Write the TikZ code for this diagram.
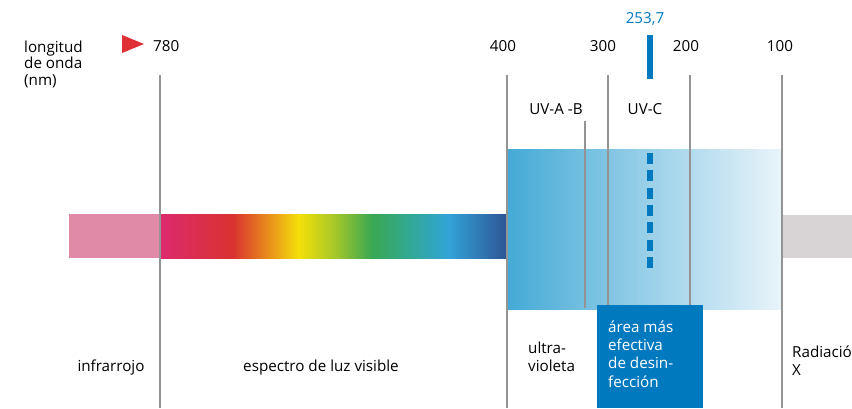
\documentclass[tikz,border=0pt]{standalone}
\usepackage{fontspec}
\setmainfont{Open Sans}
\definecolor{infra}{HTML}{E08AA8}
\definecolor{xray}{HTML}{D8D4D5}
\definecolor{uvleft}{HTML}{44AAD6}
\definecolor{uvright}{HTML}{EAF4FA}
\definecolor{uvc}{HTML}{0079BF}
\definecolor{pointer}{HTML}{E03036}
\definecolor{vmag}{HTML}{DC2A6E}
\definecolor{vred}{HTML}{D93230}
\definecolor{vorange}{HTML}{E57A20}
\definecolor{vyellow}{HTML}{F5E00A}
\definecolor{vlime}{HTML}{A8C828}
\definecolor{vgreen}{HTML}{3AA852}
\definecolor{vteal}{HTML}{30A89A}
\definecolor{vblue}{HTML}{32A4D8}
\definecolor{vdark}{HTML}{2E5494}
\pgfdeclarehorizontalshading{visible}{100bp}{color(0bp)=(vmag); color(25bp)=(vmag);
  color(35.5bp)=(vred); color(39.5bp)=(vorange); color(45bp)=(vyellow);
  color(50bp)=(vlime); color(55.5bp)=(vgreen); color(61.5bp)=(vteal);
  color(66.5bp)=(vblue); color(75bp)=(vdark); color(100bp)=(vdark)}
\begin{document}
\begin{tikzpicture}[x=1pt, y=-1pt, font=\fontsize{15.2}{17.7}\selectfont,
    grid/.style={line width=2pt, black!42},
    txt/.style={inner sep=0pt, anchor=base west, align=left},
    num/.style={inner sep=0pt, anchor=base}]
  \useasboundingbox (0,0) rectangle (852,408);
  % bands
  \fill[infra] (69,214) rectangle (160,258);
  \shade[shading=visible] (160,214) rectangle (507,258);
  \fill[xray] (782,215) rectangle (852,258);
  \shade[left color=uvleft, right color=uvright] (507,149) rectangle (782,309);
  % scale lines
  \foreach \x/\y in {160/408, 507/408, 608/305, 690/308, 782/408}
    \draw[grid] (\x,75) -- (\x,\y);
  \draw[grid] (585,121) -- (585,308);
  % most effective area
  \fill[uvc] (597,305) rectangle (703,408);
  \fill[uvc] (647,35) rectangle (653,79);
  \draw[uvc, line width=6pt, dash pattern=on 11pt off 6.33pt] (650,153) -- (650,268);
  \fill[pointer] (122,35) -- (144,44) -- (122,53) -- cycle;
  % top scale
  \node[txt, font=\fontsize{15.2}{16.5}\selectfont] (unit) at (24,85) {longitud\\de onda\\(nm)};
  \node[txt] (n780) at (153,51) {780};
  \node[num] (n400) at (503,51) {400};
  \node[num] (n300) at (603,51) {300};
  \node[num] (n200) at (686,51) {200};
  \node[num] (n100) at (780,51) {100};
  \node[num, text=uvc] (n254) at (645,23) {253,7};
  \node[num] (uvab) at (556,114) {UV-A -B};
  \node[num] (uvcl) at (645,114) {UV-C};
  % bottom labels
  \node[num] (ir) at (111,371) {infrarrojo};
  \node[num] (vis) at (321,371) {espectro de luz visible};
  \node[txt] (uv) at (528,371) {ultra-\\violeta};
  \node[txt, text=white, font=\fontsize{15.2}{18.3}\selectfont] (area) at (608,387) {área más\\efectiva\\de desin-\\fección};
  \node[txt] (xr) at (792,375) {Radiació\\X};
\end{tikzpicture}
\end{document}
